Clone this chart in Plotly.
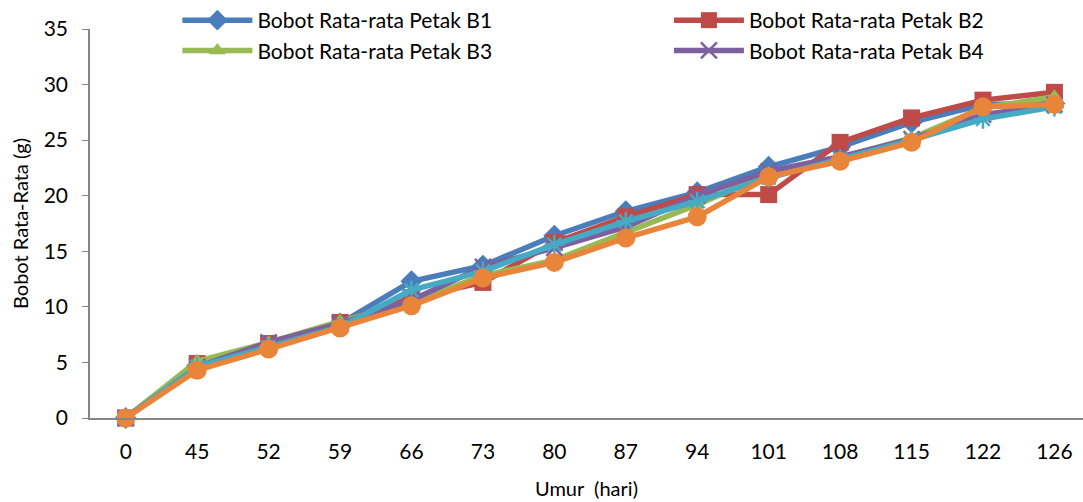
import plotly.graph_objects as go

umur = ["0", "45", "52", "59", "66", "73", "80", "87", "94", "101", "108", "115", "122", "126"]

b1 = [0, 4.7, 6.5, 8.5, 12.3, 13.7, 16.4, 18.6, 20.3, 22.6, 24.4, 26.6, 28.2, 28.3]
b2 = [0, 4.9, 6.7, 8.6, 10.8, 12.2, 15.8, 18.1, 20.1, 20.1, 24.8, 27.0, 28.6, 29.3]
b3 = [0, 5.1, 6.8, 8.7, 10.4, 12.8, 14.2, 16.7, 19.2, 22.0, 23.4, 25.2, 27.9, 28.9]
b4 = [0, 4.6, 6.8, 8.5, 10.6, 13.6, 15.3, 17.2, 20.0, 22.2, 23.5, 25.1, 27.3, 28.2]
b5 = [0, 4.6, 6.4, 8.2, 11.5, 13.2, 15.6, 17.7, 19.5, 21.6, 23.3, 25.0, 26.9, 28.0]
b6 = [0, 4.3, 6.2, 8.1, 10.1, 12.6, 14.0, 16.2, 18.1, 21.7, 23.1, 24.8, 28.0, 28.2]

names = ["Bobot Rata-rata Petak B1", "Bobot Rata-rata Petak B2",
         "Bobot Rata-rata Petak B3", "Bobot Rata-rata Petak B4",
         "Bobot Rata-rata Petak B5", "Bobot Rata-rata Petak B6"]
series = [b1, b2, b3, b4, b5, b6]
colors = ["#4A7EBB", "#BE4B48", "#98B954", "#7D60A0", "#46AAC5", "#E8853A"]
symbols = ["diamond", "square", "triangle-up", "x-thin-open", "asterisk-open", "circle"]
sizes = [17, 17, 15, 16, 16, 19]
show = [True, True, True, True, False, False]
legend_ids = ["legend", "legend2", "legend", "legend2", "legend", "legend"]

FONT = "Lato"

fig = go.Figure()
for nm, ys, c, sym, sz, sh, lg in zip(names, series, colors, symbols, sizes, show, legend_ids):
    mk = dict(symbol=sym, size=sz, color=c)
    if sym.endswith("open"):
        mk["line"] = dict(color=c, width=2.5)
    fig.add_trace(go.Scatter(
        x=umur, y=ys, name=nm, mode="lines+markers",
        line=dict(color=c, width=5.5),
        marker=mk, cliponaxis=False, showlegend=sh, legend=lg,
    ))

leg_common = dict(
    orientation="v", yanchor="top", xanchor="left", y=1.075,
    itemwidth=70, font=dict(size=21, family=FONT),
    bgcolor="rgba(0,0,0,0)", tracegroupgap=0,
)

fig.update_layout(
    width=1083, height=502,
    margin=dict(l=90, r=0, t=29, b=84),
    paper_bgcolor="white", plot_bgcolor="white",
    font=dict(family=FONT, size=21, color="black"),
    legend=dict(x=0.088, **leg_common),
    legend2=dict(x=0.583, **leg_common),
    xaxis=dict(
        type="category", range=[-0.5, 13.4],
        showline=True, linecolor="#868686", linewidth=1.5,
        showgrid=False, ticks="", zeroline=False,
        tickfont=dict(size=21), ticklabelstandoff=14,
        title=dict(text="Umur\u00a0 (hari)", font=dict(size=20), standoff=20),
    ),
    yaxis=dict(
        range=[0, 35], dtick=5, showline=True, linecolor="#868686", linewidth=1.5,
        showgrid=False, ticks="outside", ticklen=6, tickcolor="#868686",
        zeroline=False, tickfont=dict(size=21), ticklabelstandoff=10,
        title=dict(text="Bobot Rata-Rata (g)", font=dict(size=20), standoff=10),
    ),
)

fig.write_html("out.html")
